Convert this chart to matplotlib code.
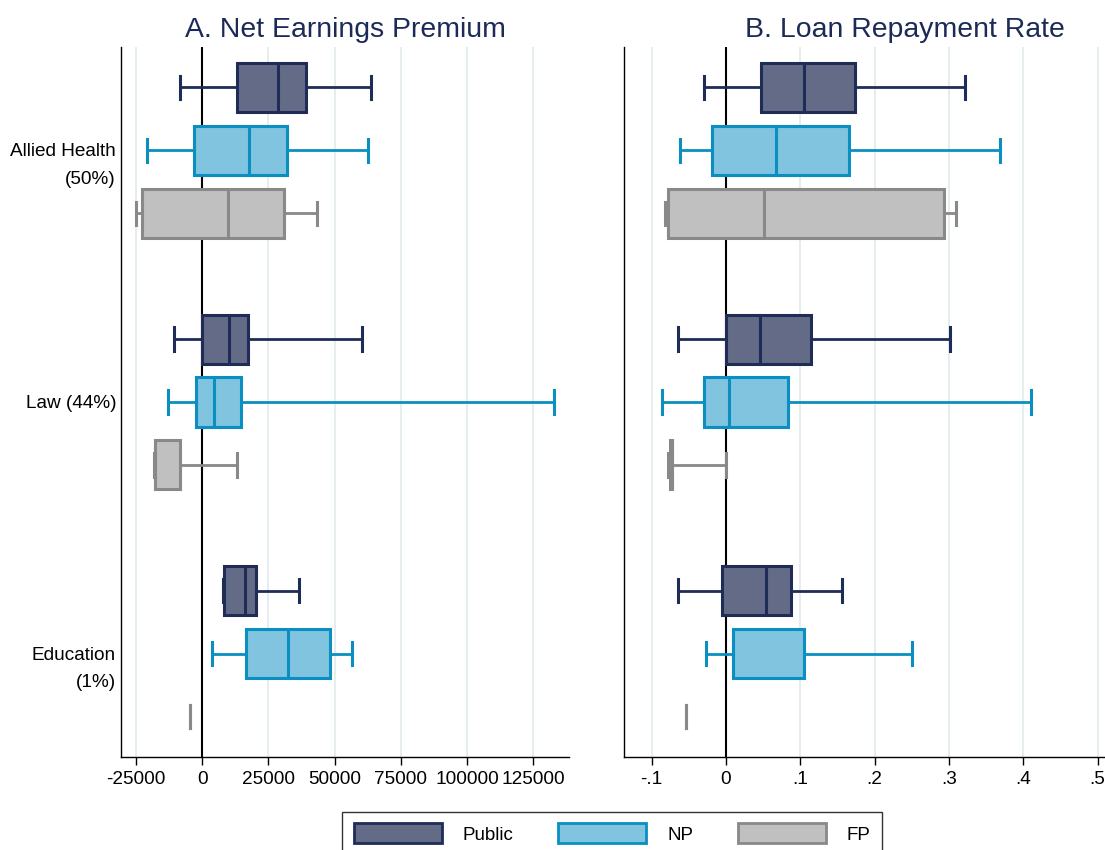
import matplotlib
matplotlib.use("Agg")
import matplotlib.pyplot as plt
from matplotlib.patches import Patch

plt.rcParams['font.family'] = ['Liberation Sans', 'DejaVu Sans']

categories = ['Allied Health\n(50%)', 'Law (44%)', 'Education\n(1%)']
sectors = ['Public', 'NP', 'FP']

# each row: whisker low, q1, median, q3, whisker high (Allied Health, Law, Education)
earn_public = [[-8230, 13140, 28580, 39120, 63660],
               [-10680, 0, 10250, 17470, 60340],
               [7800, 8370, 16020, 20350, 36660]]
earn_np = [[-20930, -3030, 17750, 32190, 62650],
           [-12850, -2310, 4470, 14580, 132650],
           [3750, 16450, 32330, 48070, 56730]]
earn_fp = [[-25120, -22810, 9960, 31030, 43160],
           [-18330, -17750, -17750, -8520, 13140],
           [-4480, -4480, -4480, -4480, -4480]]

repay_public = [[-0.029, 0.0475, 0.1045, 0.1735, 0.322],
                [-0.064, 0.0, 0.0466, 0.115, 0.301],
                [-0.065, -0.005, 0.054, 0.088, 0.156]]
repay_np = [[-0.061, -0.018, 0.067, 0.166, 0.369],
            [-0.0865, -0.030, 0.004, 0.083, 0.410],
            [-0.027, 0.009, 0.009, 0.105, 0.251]]
repay_fp = [[-0.0825, -0.0776, 0.051, 0.293, 0.309],
            [-0.0776, -0.0745, -0.073, -0.0718, 0.0],
            [-0.054, -0.054, -0.054, -0.054, -0.054]]

earn_ticks = [-25000, 0, 25000, 50000, 75000, 100000, 125000]
earn_labels = ['-25000', '0', '25000', '50000', '75000', '100000', '125000']
repay_ticks = [-0.1, 0, 0.1, 0.2, 0.3, 0.4, 0.5, 0.6]
repay_labels = ['-.1', '0', '.1', '.2', '.3', '.4', '.5', '.6']

fills = ['#636b86', '#80c4df', '#c0c0c0']
edges = ['#1f2c57', '#0a8fc0', '#898989']
title_color = '#1c2a58'


def draw_panel(ax, data):
    for j, rows in enumerate(data):
        for i, r in enumerate(rows):
            lo, q1, med, q3, hi = r
            flat = q1 == q3 == med
            stats = [dict(whislo=lo, q1=q1, med=med, q3=q3, whishi=hi, fliers=[])]
            ax.bxp(stats, positions=[4 * i + j], widths=0.78, capwidths=0.37,
                   orientation='horizontal', patch_artist=True, showfliers=False,
                   showbox=not flat, manage_ticks=False,
                   boxprops=dict(facecolor=fills[j], edgecolor=edges[j], linewidth=2.2),
                   medianprops=dict(color=edges[j], linewidth=0 if flat else 2.2),
                   whiskerprops=dict(color=edges[j], linewidth=2),
                   capprops=dict(color=edges[j], linewidth=2.2))
    ax.axvline(0, color='black', linewidth=1.5, zorder=1)
    ax.set_ylim(10.64, -0.64)
    ax.set_yticks([])
    ax.grid(axis='x', color='#e4ecf0', linewidth=1.3)
    ax.set_axisbelow(True)
    for s in ['top', 'right']:
        ax.spines[s].set_visible(False)
    for s in ['left', 'bottom']:
        ax.spines[s].set_color('black')
        ax.spines[s].set_linewidth(1)
    ax.tick_params(axis='x', length=6, width=1, labelsize=13.7, pad=4)


fig = plt.figure(figsize=(11.05, 8.5), dpi=100)
ax1 = fig.add_axes([121 / 1105, 1 - 757 / 850, 448 / 1105, 710 / 850])
ax2 = fig.add_axes([624 / 1105, 1 - 757 / 850, 562 / 1105, 710 / 850])

draw_panel(ax1, [earn_public, earn_np, earn_fp])
ax1.set_xlim(-30590, 138400)
ax1.set_xticks(earn_ticks)
ax1.set_xticklabels(earn_labels)
ax1.set_title('A. Net Earnings Premium', fontsize=20.4, color=title_color, pad=7)

# category labels: first line centred on the middle box of each group
for i, cat in enumerate(categories):
    ax1.annotate(cat, xy=(0, 4 * i + 1), xycoords=('axes fraction', 'data'),
                 xytext=(-5, 7), textcoords='offset pixels',
                 ha='right', va='top', fontsize=13.7, linespacing=1.8)

draw_panel(ax2, [repay_public, repay_np, repay_fp])
ax2.set_xlim(-0.137, 0.619)
ax2.set_xticks(repay_ticks)
ax2.set_xticklabels(repay_labels)
ax2.set_title('B. Loan Repayment Rate', fontsize=20.4, color=title_color, pad=7)

handles = [Patch(facecolor=fills[k], edgecolor=edges[k], linewidth=2) for k in range(3)]
leg = fig.legend(handles, sectors, loc='upper center', bbox_to_anchor=(0.554, 0.0447),
                 borderaxespad=0, ncol=3, frameon=True, fancybox=False, edgecolor='black',
                 handlelength=4.7, handleheight=1.28, handletextpad=1.1,
                 columnspacing=2.4, borderpad=0.6, fontsize=13.5)
leg.get_frame().set_linewidth(1)

fig.savefig('out.png', dpi=100)
plt.close(fig)
